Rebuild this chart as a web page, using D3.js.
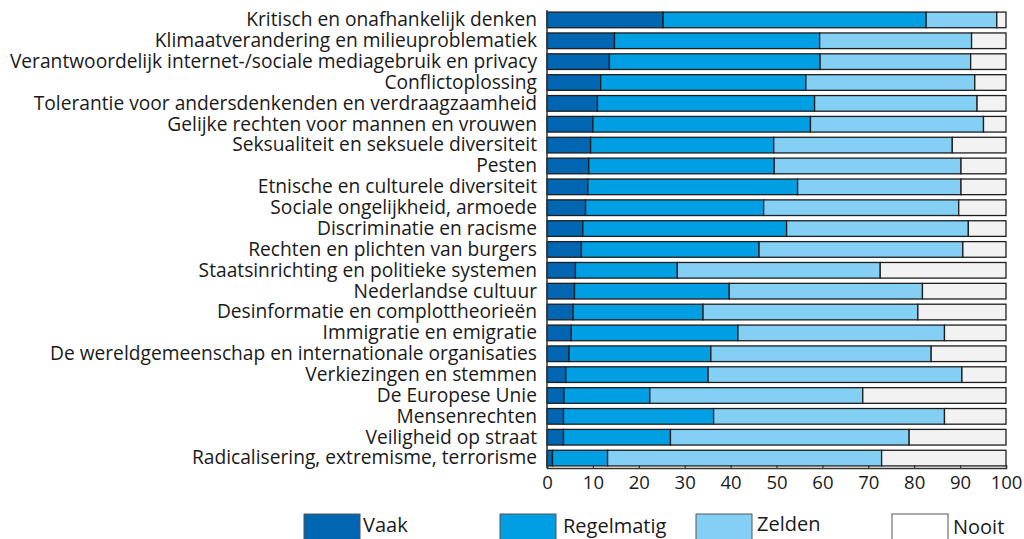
<!DOCTYPE html>
<html>
<head>
<meta charset="utf-8">
<script src="https://cdn.jsdelivr.net/npm/d3@7"></script>
<style>
  html, body { margin: 0; padding: 0; background: #ffffff; }
  svg { display: block; }
  text { font-family: "Open Sans", sans-serif; fill: #1a1a1a; }
</style>
</head>
<body>
<svg id="chart" width="1024" height="539"></svg>
<script>
// Onderwerpen, van boven naar beneden
const categories = [
  "Kritisch en onafhankelijk denken",
  "Klimaatverandering en milieuproblematiek",
  "Verantwoordelijk internet-/sociale mediagebruik en privacy",
  "Conflictoplossing",
  "Tolerantie voor andersdenkenden en verdraagzaamheid",
  "Gelijke rechten voor mannen en vrouwen",
  "Seksualiteit en seksuele diversiteit",
  "Pesten",
  "Etnische en culturele diversiteit",
  "Sociale ongelijkheid, armoede",
  "Discriminatie en racisme",
  "Rechten en plichten van burgers",
  "Staatsinrichting en politieke systemen",
  "Nederlandse cultuur",
  "Desinformatie en complottheorieën",
  "Immigratie en emigratie",
  "De wereldgemeenschap en internationale organisaties",
  "Verkiezingen en stemmen",
  "De Europese Unie",
  "Mensenrechten",
  "Veiligheid op straat",
  "Radicalisering, extremisme, terrorisme"
];

// Percentages per antwoordcategorie
const vaak       = [25.3, 14.7, 13.6, 11.7, 11.0, 10.0, 9.5, 9.1, 8.9, 8.4, 7.8, 7.5, 6.2, 6.0, 5.7, 5.3, 4.8, 4.1, 3.7, 3.6, 3.6, 1.2];
const regelmatig = [57.3, 44.7, 45.9, 44.7, 47.3, 47.4, 39.9, 40.4, 45.7, 38.8, 44.4, 38.7, 22.2, 33.7, 28.3, 36.3, 30.9, 31.0, 18.7, 32.7, 23.3, 12.0];
const zelden     = [15.4, 33.1, 32.8, 36.8, 35.4, 37.7, 38.9, 40.7, 35.6, 42.5, 39.6, 44.4, 44.2, 42.1, 46.8, 45.0, 48.0, 55.3, 46.4, 50.3, 52.0, 59.7];
const nooit      = [2.0, 7.5, 7.7, 6.8, 6.3, 4.9, 11.7, 9.8, 9.8, 10.3, 8.2, 9.4, 27.4, 18.2, 19.2, 13.4, 16.3, 9.6, 31.2, 13.4, 21.1, 27.1];

const seriesNames = ["Vaak", "Regelmatig", "Zelden", "Nooit"];
const xTicks = [0, 10, 20, 30, 40, 50, 60, 70, 80, 90, 100];

const barColors = ["#0066b1", "#009fe3", "#84d0f5", "#f2f2f2"];
const legendColors = ["#0066b1", "#009fe3", "#84d0f5", "#ffffff"];

const rows = categories.map((c, i) => ({
  category: c,
  Vaak: vaak[i], Regelmatig: regelmatig[i], Zelden: zelden[i], Nooit: nooit[i]
}));

const svg = d3.select("#chart");

const x = d3.scaleLinear().domain([0, 100]).range([547, 1006]);
const y = d3.scaleBand().domain(categories).range([10, 468])
  .paddingInner(0.25).paddingOuter(0.1);
const color = d3.scaleOrdinal().domain(seriesNames).range(barColors);

const stacked = d3.stack().keys(seriesNames)(rows);

// Gestapelde balken
svg.append("g").selectAll("g")
  .data(stacked)
  .join("g")
  .attr("fill", d => color(d.key))
  .selectAll("rect")
  .data(d => d)
  .join("rect")
  .attr("x", d => x(d[0]))
  .attr("y", d => y(d.data.category))
  .attr("width", d => x(d[1]) - x(d[0]))
  .attr("height", y.bandwidth())
  .attr("stroke", "#1e1e1e")
  .attr("stroke-width", 1.3);

// Categorielabels links van de balken
svg.append("g").selectAll("text")
  .data(categories)
  .join("text")
  .attr("x", 537)
  .attr("y", d => y(d) + y.bandwidth() / 2)
  .attr("dy", "0.33em")
  .attr("text-anchor", "end")
  .style("font-size", "19.2px")
  .text(d => d);

// Verticale aslijn
svg.append("line")
  .attr("x1", x(0)).attr("x2", x(0))
  .attr("y1", 10).attr("y2", 468)
  .attr("stroke", "#333").attr("stroke-width", 1.5);

// Horizontale as met kleine naar binnen gerichte streepjes
const xAxis = d3.axisBottom(x).tickValues(xTicks).tickSize(-3).tickPadding(8).tickFormat(d3.format("d"));
const gx = svg.append("g").attr("transform", "translate(0,468)").call(xAxis);
gx.select(".domain").attr("stroke", "#333").attr("stroke-width", 1.5);
gx.selectAll(".tick line").attr("stroke", "#333").attr("stroke-width", 1.2);
gx.selectAll(".tick text")
  .style("font-family", "'Open Sans', sans-serif")
  .style("font-size", "18.5px")
  .attr("fill", "#1a1a1a");

// Legenda
const legendX = [304, 500, 696, 892];
const legendTextOffset = [59, 63, 61, 61];
const legendBaseline = [532, 533, 531, 534];
const legend = svg.append("g").selectAll("g")
  .data(seriesNames)
  .join("g");
legend.append("rect")
  .attr("x", (d, i) => legendX[i])
  .attr("y", 514)
  .attr("width", 56)
  .attr("height", 34)
  .attr("fill", (d, i) => legendColors[i])
  .attr("stroke", "#555")
  .attr("stroke-width", 1);
legend.append("text")
  .attr("x", (d, i) => legendX[i] + legendTextOffset[i])
  .attr("y", (d, i) => legendBaseline[i])
  .style("font-size", "20px")
  .text(d => d);
</script>
</body>
</html>
